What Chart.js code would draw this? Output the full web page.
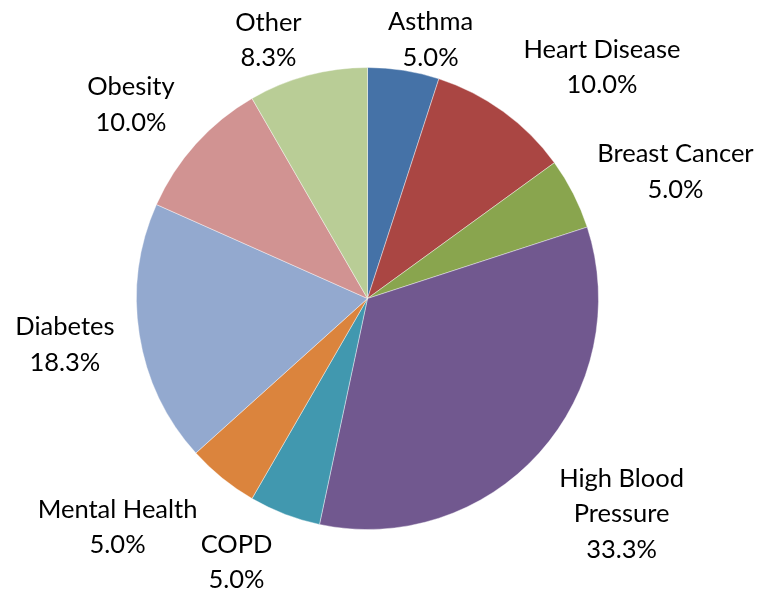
<!DOCTYPE html>
<html>
<head>
<meta charset="utf-8">
<script src="https://cdn.jsdelivr.net/npm/chart.js@4"></script>
<style>
  html, body { margin: 0; padding: 0; background: #ffffff; }
  #wrap { width: 762px; height: 593px; }
</style>
</head>
<body>
<div id="wrap"><canvas id="c" width="762" height="593"></canvas></div>
<script>
// ---- data ----
const categories = ["Asthma", "Heart Disease", "Breast Cancer", "High Blood Pressure", "COPD", "Mental Health", "Diabetes", "Obesity", "Other"];
const counts = [3, 6, 3, 20, 3, 3, 11, 6, 5];
const labelLines = [["Asthma"], ["Heart Disease"], ["Breast Cancer"], ["High Blood", "Pressure"], ["COPD"], ["Mental Health"], ["Diabetes"], ["Obesity"], ["Other"]];
const colors = ["#4572A7", "#AA4643", "#89A54E", "#71588F", "#4198AF", "#DB843D", "#93A9CF", "#D19392", "#B9CD96"];

// label block centres, relative to the pie centre in units of the radius
const labelOffsets = [
  [0.273, -1.120], [1.015, -1.002], [1.333, -0.548], [1.100, 0.933],
  [-0.567, 1.141], [-1.082, 0.991], [-1.310, 0.201], [-1.024, -0.838], [-0.429, -1.118]
];

const total = counts.reduce((a, b) => a + b, 0);

const outsideLabels = {
  id: 'outsideLabels',
  afterDatasetsDraw(chart) {
    const ctx = chart.ctx;
    const meta = chart.getDatasetMeta(0);
    ctx.save();
    ctx.font = '25.5px Lato, "Open Sans", sans-serif';
    ctx.fillStyle = '#000000';
    ctx.textAlign = 'center';
    ctx.textBaseline = 'middle';
    const lh = 35.3;
    meta.data.forEach((arc, i) => {
      const r = arc.outerRadius;
      const bx = arc.x + labelOffsets[i][0] * r;
      const by = arc.y + labelOffsets[i][1] * r;
      const pct = (counts[i] / total * 100).toFixed(1) + '%';
      const lines = labelLines[i].concat([pct]);
      const n = lines.length;
      lines.forEach((t, k) => {
        ctx.fillText(t, bx, by + (k - (n - 1) / 2) * lh);
      });
    });
    ctx.restore();
  }
};

new Chart(document.getElementById('c'), {
  type: 'pie',
  data: {
    labels: categories,
    datasets: [{
      data: counts,
      backgroundColor: colors,
      borderColor: 'rgba(255,255,255,0.4)',
      borderWidth: 1
    }]
  },
  options: {
    responsive: false,
    devicePixelRatio: 1,
    animation: false,
    layout: { padding: { top: 67, bottom: 63, left: 136, right: 163 } },
    plugins: {
      legend: { display: false },
      tooltip: { enabled: false }
    }
  },
  plugins: [outsideLabels]
});
</script>
</body>
</html>
